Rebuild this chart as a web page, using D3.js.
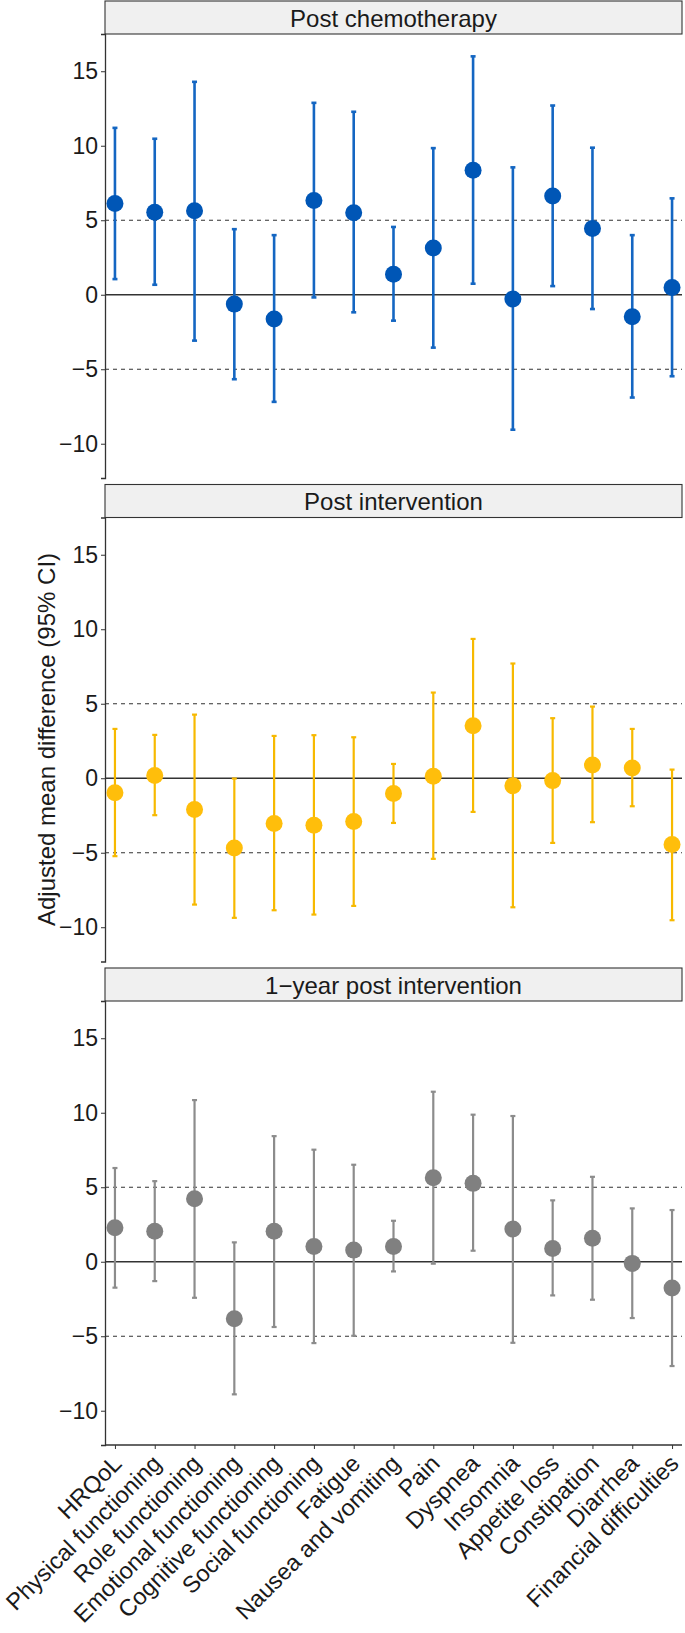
<!DOCTYPE html>
<html>
<head>
<meta charset="utf-8">
<script src="https://cdn.jsdelivr.net/npm/d3@7"></script>
<style>
  body { margin: 0; background: #fff; }
  text { font-family: "Liberation Sans", Arial, sans-serif; }
</style>
</head>
<body>
<div id="chart"></div>
<script>
// categories on the x axis
var categories = ["HRQoL", "Physical functioning", "Role functioning", "Emotional functioning",
  "Cognitive functioning", "Social functioning", "Fatigue", "Nausea and vomiting", "Pain",
  "Dyspnea", "Insomnia", "Appetite loss", "Constipation", "Diarrhea", "Financial difficulties"];

var panelTitles = ["Post chemotherapy", "Post intervention", "1\u2212year post intervention"];
var yTicks = [-10, -5, 0, 5, 10, 15];

// post chemotherapy
var chemoEst  = [6.12, 5.54, 5.63, -0.63, -1.63, 6.32, 5.51, 1.38, 3.13, 8.35, -0.29, 6.63, 4.44, -1.47, 0.49];
var chemoLow  = [1.05, 0.67, -3.08, -5.67, -7.19, -0.18, -1.18, -1.74, -3.55, 0.74, -9.06, 0.58, -0.96, -6.90, -5.47];
var chemoHigh = [11.2, 10.47, 14.29, 4.40, 4.00, 12.88, 12.28, 4.55, 9.84, 16.0, 8.55, 12.7, 9.87, 4.00, 6.47];

// post intervention
var postEst  = [-0.98, 0.18, -2.10, -4.68, -3.04, -3.15, -2.91, -1.03, 0.13, 3.53, -0.51, -0.16, 0.89, 0.69, -4.45];
var postLow  = [-5.23, -2.48, -8.48, -9.37, -8.86, -9.15, -8.57, -3.00, -5.41, -2.26, -8.66, -4.34, -2.95, -1.88, -9.53];
var postHigh = [3.31, 2.91, 4.27, -0.02, 2.84, 2.89, 2.75, 0.96, 5.75, 9.35, 7.70, 4.03, 4.81, 3.31, 0.58];

// 1-year post intervention
var yearEst  = [2.28, 2.04, 4.23, -3.83, 2.04, 1.03, 0.78, 1.03, 5.64, 5.26, 2.19, 0.89, 1.57, -0.11, -1.77];
var yearLow  = [-1.74, -1.30, -2.42, -8.90, -4.38, -5.46, -4.97, -0.65, -0.13, 0.74, -5.44, -2.26, -2.55, -3.78, -7.00];
var yearHigh = [6.29, 5.41, 10.85, 1.30, 8.43, 7.52, 6.51, 2.75, 11.41, 9.87, 9.78, 4.12, 5.70, 3.58, 3.47];

var panels = [
  { title: panelTitles[0], est: chemoEst, low: chemoLow, high: chemoHigh, point: "#0056B6", bar: "#1466C2", bw: 2.6 },
  { title: panelTitles[1], est: postEst,  low: postLow,  high: postHigh,  point: "#FFBE0B", bar: "#F7B900", bw: 2.2 },
  { title: panelTitles[2], est: yearEst,  low: yearLow,  high: yearHigh,  point: "#808080", bar: "#8C8C8C", bw: 2.2 }
];

var W = 685, H = 1633;
var left = 105, right = 682;
var stripH = 33, plotH = 444, pitch = 483.5;
var top0 = 1;

var svg = d3.select("#chart").append("svg")
  .attr("width", W).attr("height", H);

var x = d3.scalePoint().domain(categories).range([left, right]).padding(0.25);

panels.forEach(function(p, k) {
  var sTop = top0 + k * pitch;
  var pTop = sTop + stripH;
  var y = d3.scaleLinear().domain([-12.3, 17.5]).range([pTop + plotH, pTop]);
  var g = svg.append("g");

  // strip
  g.append("rect")
    .attr("x", left).attr("y", sTop)
    .attr("width", right - left).attr("height", stripH)
    .attr("fill", "#F0F0F0").attr("stroke", "#333").attr("stroke-width", 1.1);
  g.append("text")
    .attr("x", (left + right) / 2).attr("y", sTop + 25.5)
    .attr("text-anchor", "middle").attr("font-size", 24).attr("fill", "#1a1a1a")
    .text(p.title);

  // reference lines
  [5, -5].forEach(function(v) {
    g.append("line")
      .attr("x1", left).attr("x2", right)
      .attr("y1", y(v)).attr("y2", y(v))
      .attr("stroke", "#333").attr("stroke-width", 1.2).attr("stroke-dasharray", "4,4");
  });
  g.append("line")
    .attr("x1", left).attr("x2", right)
    .attr("y1", y(0)).attr("y2", y(0))
    .attr("stroke", "#333").attr("stroke-width", 1.3);

  // y axis
  var ya = g.append("g")
    .attr("transform", "translate(" + left + ",0)")
    .call(d3.axisLeft(y).tickValues(yTicks).tickSize(4).tickPadding(3)
      .tickFormat(function(d) { return d < 0 ? "\u2212" + Math.abs(d) : d; }));
  ya.select(".domain").attr("stroke", "#333").attr("stroke-width", 1.3);
  ya.selectAll(".tick line").attr("stroke", "#333");
  ya.selectAll(".tick text").attr("font-size", 23).attr("fill", "#1a1a1a")
    .attr("font-family", "Liberation Sans, Arial, sans-serif");

  // error bars
  var rows = categories.map(function(c, i) {
    return { c: c, est: p.est[i], low: p.low[i], high: p.high[i] };
  });
  g.selectAll(".eb").data(rows).enter().append("line")
    .attr("x1", function(d) { return x(d.c); })
    .attr("x2", function(d) { return x(d.c); })
    .attr("y1", function(d) { return y(d.low); })
    .attr("y2", function(d) { return y(d.high); })
    .attr("stroke", p.bar).attr("stroke-width", p.bw);
  ["low", "high"].forEach(function(key) {
    g.selectAll(".cap" + key).data(rows).enter().append("line")
      .attr("x1", function(d) { return x(d.c) - 2.5; })
      .attr("x2", function(d) { return x(d.c) + 2.5; })
      .attr("y1", function(d) { return y(d[key]); })
      .attr("y2", function(d) { return y(d[key]); })
      .attr("stroke", p.bar).attr("stroke-width", p.bw);
  });
  g.selectAll(".pt").data(rows).enter().append("circle")
    .attr("cx", function(d) { return x(d.c); })
    .attr("cy", function(d) { return y(d.est); })
    .attr("r", 8.5)
    .attr("fill", p.point);

  // x axis on the bottom panel only
  if (k === panels.length - 1) {
    var xa = g.append("g")
      .attr("transform", "translate(0," + (pTop + plotH) + ")")
      .call(d3.axisBottom(x).tickSize(4).tickFormat(""));
    xa.select(".domain").attr("stroke", "#333").attr("stroke-width", 1.3)
      .attr("d", "M" + left + ",0H" + right);
    xa.selectAll(".tick line").attr("stroke", "#333");
    g.selectAll(".xl").data(categories).enter().append("text")
      .attr("transform", function(d) {
        return "translate(" + (x(d) + 8) + "," + (pTop + plotH + 20) + ") rotate(-45)";
      })
      .attr("text-anchor", "end").attr("font-size", 23.5).attr("fill", "#1a1a1a")
      .text(function(d) { return d; });
  }
});

// y axis title
svg.append("text")
  .attr("transform", "translate(55," + (top0 + stripH + (pitch * 2 + plotH) / 2) + ") rotate(-90)")
  .attr("text-anchor", "middle").attr("font-size", 24).attr("fill", "#1a1a1a")
  .text("Adjusted mean difference (95% CI)");
</script>
</body>
</html>
